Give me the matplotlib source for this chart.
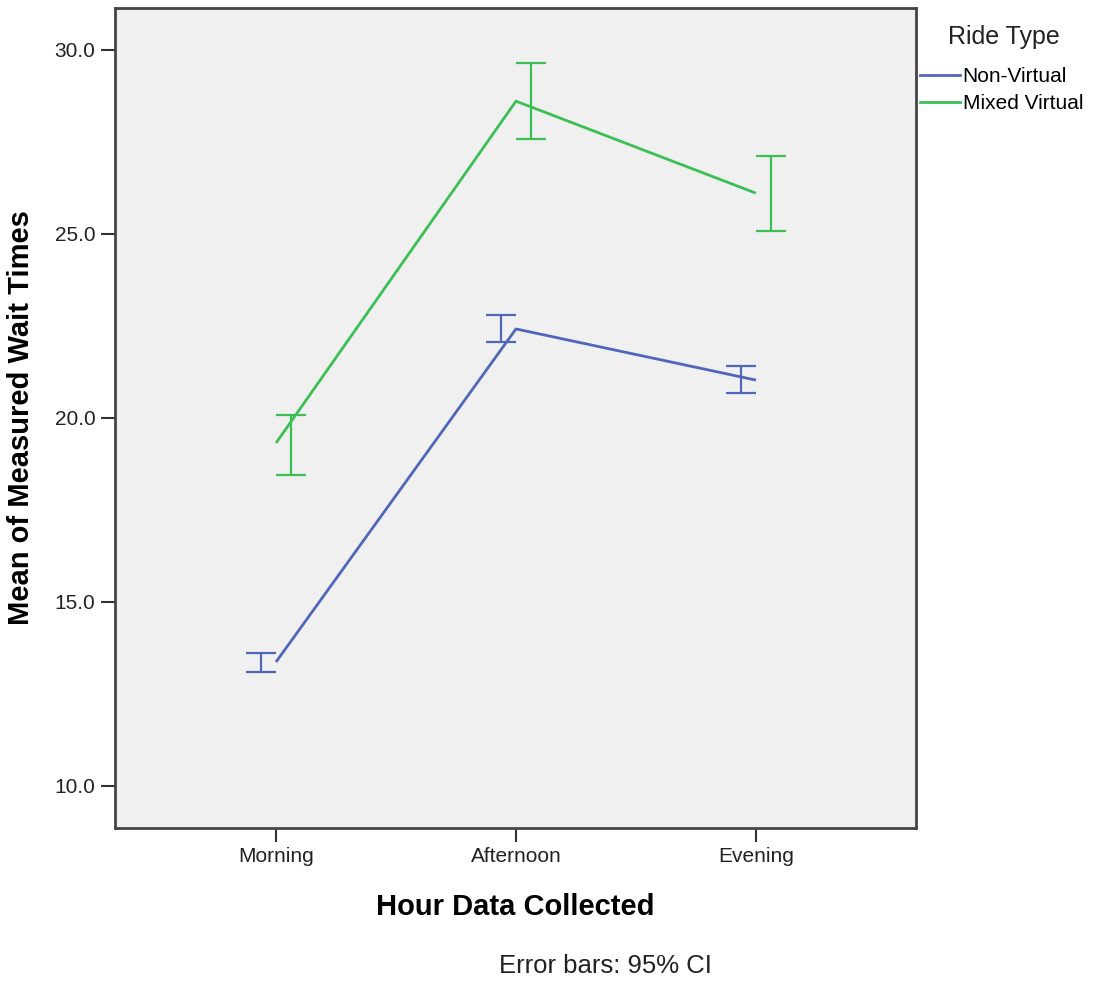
import matplotlib
matplotlib.use("Agg")
import matplotlib.pyplot as plt
from matplotlib.lines import Line2D

plt.rcParams["font.family"] = ["Liberation Sans", "DejaVu Sans"]

hours = ["Morning", "Afternoon", "Evening"]
series = ["Non-Virtual", "Mixed Virtual"]
colors = ["#4f66bb", "#3cbf55"]

mean_non_virtual = [13.37, 22.42, 21.03]
low_non_virtual = [13.10, 22.07, 20.68]
high_non_virtual = [13.61, 22.80, 21.41]

mean_mixed = [19.32, 28.61, 26.11]
low_mixed = [18.45, 27.58, 25.08]
high_mixed = [20.08, 29.65, 27.12]

y_ticks = [10.0, 15.0, 20.0, 25.0, 30.0]

W, H = 1097, 982
fig = plt.figure(figsize=(W / 100, H / 100), dpi=100)
ax = fig.add_axes([115 / W, 1 - 828 / H, (916 - 115) / W, (828 - 8) / H])
ax.set_facecolor("#f0f0f0")

x = list(range(len(hours)))
dodge = 0.0625
data = [
    (mean_non_virtual, low_non_virtual, high_non_virtual, -dodge),
    (mean_mixed, low_mixed, high_mixed, dodge),
]
for (m, lo, hi, off), c, name in zip(data, colors, series):
    ax.plot(x, m, color=c, lw=2, solid_capstyle="butt", zorder=3)
    xe = [xi + off for xi in x]
    err = [[mi - li for mi, li in zip(m, lo)], [hi_ - mi for mi, hi_ in zip(m, hi)]]
    ax.errorbar(xe, m, yerr=err, fmt="none", ecolor=c, elinewidth=1.6,
                capsize=10.8, capthick=1.6, zorder=3)

ax.set_xlim(-0.671, 2.667)
ax.set_ylim(10 - 42 / 36.8, 30 + 42 / 36.8)
ax.set_xticks(x)
ax.set_xticklabels(hours, fontsize=15, color="#222222")
ax.set_yticks(y_ticks)
ax.set_yticklabels([f"{v:.1f}" for v in y_ticks], fontsize=15, color="#222222")
ax.tick_params(axis="both", length=10, width=1.5, color="#333333", pad=4)

for s in ax.spines.values():
    s.set_color("#444444")
    s.set_linewidth(2)

ax.set_xlabel("Hour Data Collected", fontsize=21, fontweight="bold", labelpad=19)
ax.set_ylabel("Mean of Measured Wait Times", fontsize=21, fontweight="bold", labelpad=14)

fig.text(605 / W, 1 - 966 / H, "Error bars: 95% CI", fontsize=18.5, ha="center",
         va="center", color="#222222")

# legend: title as plain text, entries below
fig.text(1004 / W, 1 - 37 / H, "Ride Type", fontsize=18, ha="center", va="center",
         color="#222222")
handles = [Line2D([0], [0], color=c, lw=2) for c in colors]
fig.legend(handles, series, loc="upper left",
           bbox_to_anchor=(920 / W, 1 - 67 / H), frameon=False,
           fontsize=15, handlelength=1.9, handletextpad=0.15,
           labelspacing=0.4, borderpad=0, borderaxespad=0)

fig.savefig("out.png", dpi=100)
